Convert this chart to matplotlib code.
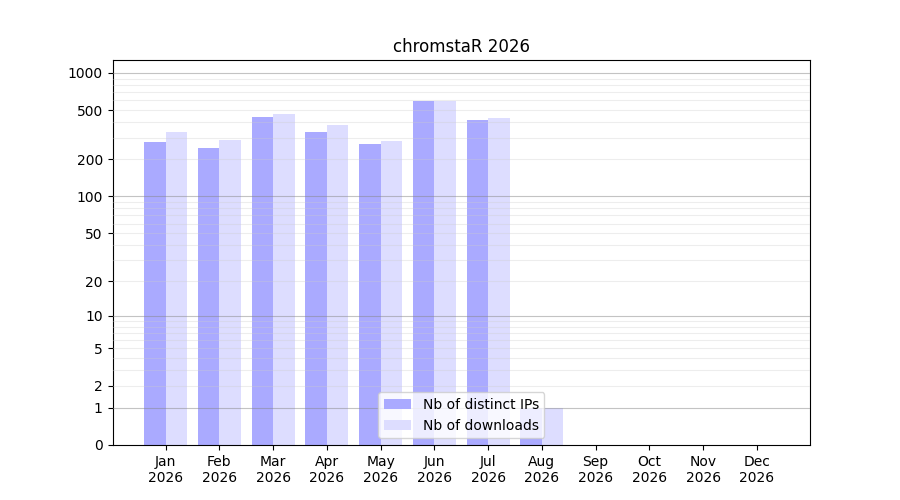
import numpy as np
import matplotlib
matplotlib.use("Agg")
import matplotlib.pyplot as plt

months = ['Jan', 'Feb', 'Mar', 'Apr', 'May', 'Jun', 'Jul', 'Aug', 'Sep', 'Oct', 'Nov', 'Dec']
year = 2026
nb_ips = [276, 247, 441, 333, 266, 594, 417, 1, 0, 0, 0, 0]
nb_downloads = [333, 287, 466, 380, 282, 592, 433, 1, 0, 0, 0, 0]
ytick_values = [0, 1, 2, 5, 10, 20, 50, 100, 200, 500, 1000]


def fwd(v):
    return np.log10(1 + np.clip(v, 0, None))


def inv(v):
    return 10 ** v - 1


fig, ax = plt.subplots(figsize=(9, 5), dpi=100)
x = np.arange(len(months))

ax.bar(x - 0.2, nb_ips, width=0.4, color='#aaaaff', label='Nb of distinct IPs')
ax.bar(x + 0.2, nb_downloads, width=0.4, color='#ddddff', label='Nb of downloads')

ax.set_yscale('function', functions=(fwd, inv))
ax.set_ylim(0, 1270)
ax.set_yticks(ytick_values)
ax.set_yticklabels([str(v) for v in ytick_values])
ax.minorticks_off()

# grid lines drawn over the bars
for decade in [1, 10, 100, 1000]:
    ax.axhline(decade, color='#888888', alpha=0.5, lw=0.8, zorder=3)
    for m in range(2, 10):
        if decade * m < 1270:
            ax.axhline(decade * m, color='#cccccc', alpha=0.35, lw=0.8, zorder=3)

ax.set_xticks(x)
ax.set_xticklabels([f'{m}\n{year}' for m in months])
ax.set_title(f'chromstaR {year}')
ax.legend(loc='lower center')

fig.savefig('out.png')
